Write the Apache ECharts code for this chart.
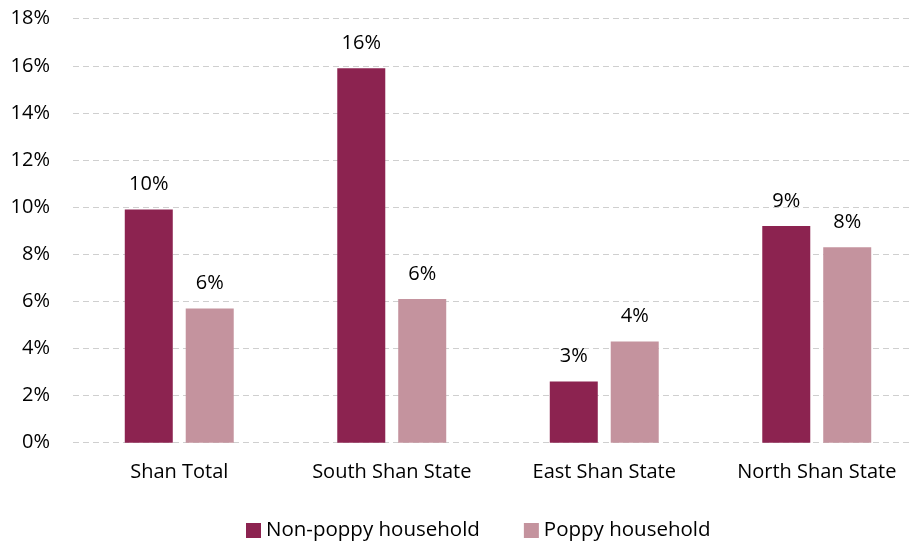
<!DOCTYPE html>
<html><head><meta charset="utf-8">
<script src="https://cdn.jsdelivr.net/npm/echarts@6/dist/echarts.min.js"></script>
<style>html,body{margin:0;padding:0;background:#fff}#c{width:912px;height:543px}</style>
</head><body><div id="c"></div>
<script>
const categories = ['Shan Total', 'South Shan State', 'East Shan State', 'North Shan State'];
const nonPoppy = [9.9, 15.9, 2.6, 9.2];
const poppy = [5.7, 6.1, 4.3, 8.3];
const yTicks = [0, 2, 4, 6, 8, 10, 12, 14, 16, 18];

const FONT = '"Open Sans", "Noto Sans", sans-serif';
const FS = 20;
const chart = echarts.init(document.getElementById('c'), null, {renderer: 'canvas'});
const lbl = {
  show: true, position: 'top', distance: 15,
  fontFamily: FONT, fontSize: FS, color: '#000',
  formatter: p => Math.round(p.value) + '%'
};
chart.setOption({
  animation: false,
  textStyle: {fontFamily: FONT},
  grid: {left: 73, width: 850, top: 18.7, height: 424, containLabel: false, outerBoundsMode: 'none'},
  legend: {
    left: 241, top: 515, itemWidth: 15, itemHeight: 15, itemGap: 44,
    icon: 'rect',
    textStyle: {fontFamily: FONT, fontSize: 20.5, color: '#000'},
    data: ['Non-poppy household', 'Poppy household']
  },
  xAxis: {
    type: 'category', data: categories,
    axisLine: {show: false}, axisTick: {show: false},
    axisLabel: {fontFamily: FONT, fontSize: FS, color: '#000', margin: 20}
  },
  yAxis: {
    type: 'value', min: yTicks[0], max: yTicks[yTicks.length - 1], interval: 2,
    axisLine: {show: false}, axisTick: {show: false},
    axisLabel: {fontFamily: FONT, fontSize: FS, color: '#000', margin: 23, formatter: v => v + '%'},
    splitLine: {lineStyle: {color: '#cfcfcf', type: [6, 4], width: 1}}
  },
  series: [
    {name: 'Non-poppy household', type: 'bar', data: nonPoppy, barWidth: 48, barGap: '27%',
     itemStyle: {color: '#8C2350'}, label: lbl},
    {name: 'Poppy household', type: 'bar', data: poppy, barWidth: 48, barGap: '27%',
     itemStyle: {color: '#C4939E'}, label: lbl}
  ]
});
</script></body></html>
